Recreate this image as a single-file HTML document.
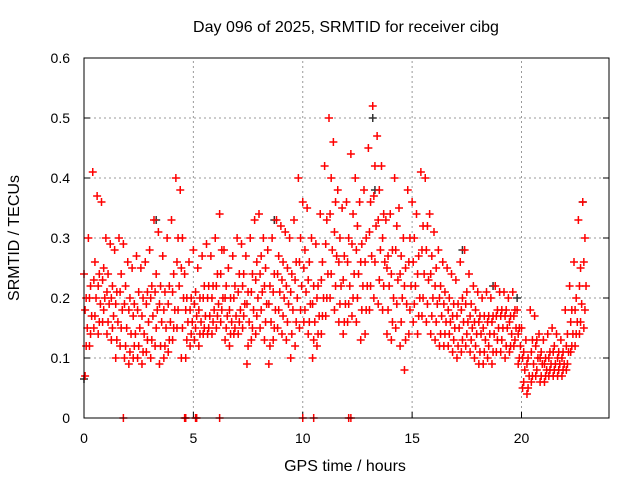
<!DOCTYPE html>
<html><head><meta charset="utf-8"><style>
body{margin:0;background:#fff}
svg text{font-family:"Liberation Sans",sans-serif;font-size:14px;fill:#000}
svg text.big{font-size:16px}
</style></head><body>
<svg id="chart" width="640" height="480" xmlns="http://www.w3.org/2000/svg">
<rect width="640" height="480" fill="#fff"/>
<text class="big" x="346" y="32" text-anchor="middle">Day 096 of 2025, SRMTID for receiver cibg</text>
<text class="big" x="0" y="0" transform="translate(19,238) rotate(-90)" text-anchor="middle">SRMTID / TECUs</text>
<text class="big" x="345" y="471" text-anchor="middle">GPS time / hours</text>
<g id="grid"></g>
<g id="ticks"></g>
<g id="marks"></g>
<rect x="84" y="58" width="525" height="360" fill="none" stroke="#000" stroke-width="1"/>
</svg>
<script>
const xTicks=[0,5,10,15,20];
const yTicks=[0,0.1,0.2,0.3,0.4,0.5,0.6];
const yTickLabels=["0","0.1","0.2","0.3","0.4","0.5","0.6"];
const tStart=0, tStep=0.2;
const hiVals=[.24,.30,.41,.37,.36,.30,.29,.28,.30,.29,.26,.25,.27,.25,.26,.28,.33,.31,.27,.30,.33,.40,.38,.24,.26,.28,.25,.27,.29,.27,.30,.34,.28,.25,.27,.30,.29,.27,.30,.33,.34,.30,.28,.30,.33,.32,.31,.30,.33,.40,.36,.35,.30,.29,.34,.42,.50,.46,.38,.35,.36,.44,.40,.36,.38,.45,.52,.47,.42,.33,.34,.40,.35,.30,.38,.36,.34,.41,.40,.34,.31,.28,.26,.25,.24,.23,.26,.28,.24,.22,.21,.20,.21,.20,.22,.21,.21,.20,.21,.18,.15,.13,.18,.17,.14,.13,.14,.15,.14,.13,.18,.22,.26,.33,.36];
const upVals=[.20,.22,.26,.24,.25,.24,.22,.21,.24,.22,.20,.19,.21,.20,.21,.22,.24,.22,.21,.22,.24,.30,.30,.20,.20,.21,.20,.22,.22,.22,.24,.28,.22,.20,.22,.24,.24,.21,.24,.26,.27,.25,.22,.24,.27,.26,.25,.24,.26,.30,.28,.26,.22,.22,.26,.33,.40,.36,.30,.27,.30,.34,.32,.29,.30,.36,.42,.38,.34,.27,.28,.32,.27,.25,.30,.30,.27,.32,.32,.27,.25,.22,.21,.20,.19,.19,.20,.21,.19,.18,.17,.17,.17,.17,.18,.18,.18,.17,.18,.15,.11,.10,.13,.13,.11,.10,.11,.12,.11,.11,.14,.18,.20,.25,.30];
const midAVals=[.18,.20,.23,.22,.23,.21,.20,.19,.21,.19,.18,.17,.18,.17,.19,.20,.21,.19,.18,.19,.21,.26,.25,.18,.18,.19,.18,.20,.20,.20,.22,.24,.20,.18,.20,.21,.22,.19,.21,.23,.24,.22,.19,.21,.24,.23,.22,.21,.23,.26,.25,.23,.19,.20,.23,.29,.34,.31,.26,.23,.26,.29,.28,.26,.26,.31,.37,.33,.30,.25,.24,.28,.24,.22,.26,.26,.24,.28,.28,.24,.22,.20,.19,.18,.17,.17,.18,.19,.17,.16,.16,.15,.16,.16,.17,.17,.17,.16,.17,.14,.10,.09,.11,.12,.10,.09,.10,.11,.10,.10,.12,.16,.18,.22,.26];
const lowVals=[.15,.17,.20,.19,.20,.19,.17,.16,.18,.15,.14,.14,.15,.14,.16,.17,.18,.16,.15,.16,.18,.22,.20,.16,.16,.17,.16,.17,.17,.18,.19,.20,.17,.16,.17,.18,.19,.16,.18,.20,.21,.19,.16,.18,.21,.20,.19,.18,.20,.22,.21,.19,.16,.17,.20,.24,.28,.27,.22,.19,.22,.24,.24,.22,.22,.27,.32,.28,.26,.22,.20,.23,.20,.19,.22,.22,.20,.24,.23,.20,.19,.17,.16,.16,.15,.15,.16,.16,.15,.14,.14,.13,.14,.14,.15,.15,.15,.14,.15,.12,.08,.07,.09,.10,.09,.08,.09,.09,.09,.09,.11,.14,.16,.19,.22];
const midBVals=[.12,.14,.17,.16,.18,.16,.15,.13,.15,.12,.11,.12,.12,.11,.13,.13,.15,.12,.12,.13,.15,.18,.15,.13,.14,.15,.14,.15,.15,.16,.17,.18,.15,.14,.15,.16,.17,.12,.15,.17,.18,.16,.12,.15,.18,.17,.16,.14,.16,.18,.18,.16,.13,.14,.17,.20,.24,.22,.19,.16,.19,.20,.20,.18,.18,.22,.26,.23,.22,.18,.16,.19,.16,.13,.18,.19,.17,.20,.19,.17,.16,.14,.14,.14,.13,.12,.13,.14,.13,.12,.11,.11,.12,.11,.13,.13,.12,.12,.13,.10,.06,.05,.07,.08,.07,.07,.08,.08,.08,.08,.09,.12,.14,.16,.18];
const minVals=[.07,.12,.15,.14,.16,.14,.13,.10,.12,.10,.09,.10,.10,.09,.11,.10,.12,.09,.10,.11,.13,.15,.10,.10,.12,.13,.12,.14,.14,.14,.15,.16,.13,.12,.14,.14,.15,.09,.13,.14,.15,.13,.09,.13,.15,.14,.13,.10,.12,.15,.16,.14,.10,.12,.14,.17,.20,.18,.16,.14,.16,.17,.16,.13,.14,.18,.20,.19,.18,.14,.13,.15,.12,.08,.14,.16,.14,.17,.16,.14,.13,.12,.12,.12,.11,.10,.11,.12,.11,.10,.09,.09,.10,.09,.11,.11,.10,.11,.12,.09,.05,.04,.06,.07,.06,.06,.07,.07,.07,.07,.08,.11,.12,.14,.15];
const zeroTimes=[1.8,4.6,4.65,5.1,5.15,6.2,10.0,10.5,12.1,12.2];
const greyTimes=[0.0,3.3,8.7,13.2,13.3,17.3,18.7,19.8,22.8];
const greyVals=[0.065,0.33,0.33,0.50,0.38,0.28,0.22,0.20,0.36];

const X0=84,X1=609,Y0=418,Y1=58;
const xs=t=>X0+t*(X1-X0)/24;
const ys=v=>Y0-v*(Y0-Y1)/0.6;
const NS="http://www.w3.org/2000/svg";
const grid=document.getElementById('grid'),ticks=document.getElementById('ticks'),marks=document.getElementById('marks');
function mk(tag,attrs,parent){const e=document.createElementNS(NS,tag);for(const k in attrs)e.setAttribute(k,attrs[k]);parent.appendChild(e);return e;}
xTicks.forEach(t=>{
  const x=xs(t);
  if(t>0){const g=mk('line',{x1:x,x2:x,y1:Y0,y2:Y1,stroke:'#999','stroke-dasharray':'2,3'},grid);
  
  }
  const tk=mk('line',{x1:x,x2:x,y1:Y0,y2:Y0-6,stroke:'#000'},ticks);
  
  
  const tx=mk('text',{x:x,y:443,'text-anchor':'middle'},ticks);tx.textContent=String(t);
  
  
});
yTicks.forEach((v,i)=>{
  const y=ys(v);
  if(v>0&&v<0.6){const g=mk('line',{x1:X0,x2:X1,y1:y,y2:y,stroke:'#999','stroke-dasharray':'2,3'},grid);
  
  }
  const tk=mk('line',{x1:X0,x2:X0+6,y1:y,y2:y,stroke:'#000'},ticks);
  
  
  const tk2=mk('line',{x1:X1,x2:X1-6,y1:y,y2:y,stroke:'#000'},ticks);
  
  
  const tx=mk('text',{x:70,y:y+5,'text-anchor':'end'},ticks);tx.textContent=yTickLabels[i];
  
  
});
function cross(x,y,col,name){
  const p=mk('path',{d:`M${x-4},${y}h8M${x},${y-4}v8`,stroke:col,'stroke-width':1.5,fill:'none'},marks);
  
  
}
greyTimes.forEach((t,i)=>cross(xs(t),ys(greyVals[i]),'#333','grey-point'));
const offs=[0,0.1,0.05,0.15,0.1,0.05];
[hiVals,upVals,midAVals,lowVals,midBVals,minVals].forEach((arr,k)=>{
  arr.forEach((v,i)=>{const t=tStart+i*tStep+offs[k];cross(xs(t),ys(v),'#f00','srmtid-point');});
});
zeroTimes.forEach(t=>cross(xs(t),ys(0),'#f00','zero-point'));
</script>
</body></html>
